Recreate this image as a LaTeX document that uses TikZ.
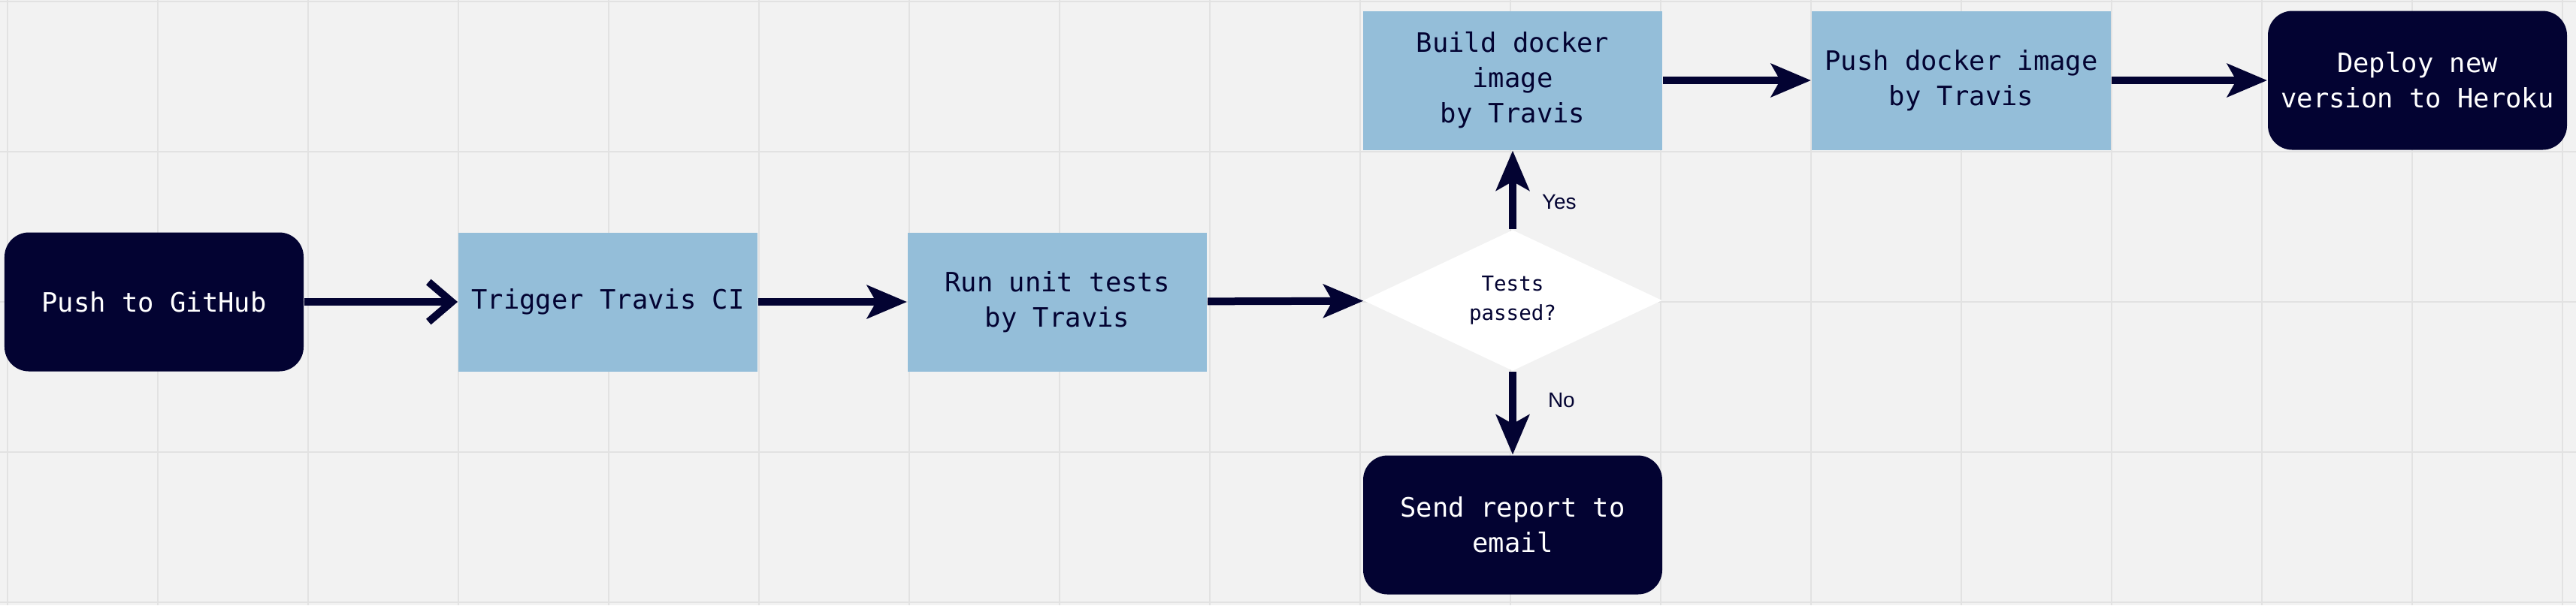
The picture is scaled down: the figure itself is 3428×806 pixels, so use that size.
\documentclass[tikz,border=0pt]{standalone}
\usepackage{fontspec}
\usepackage{tikz}
\usetikzlibrary{arrows.meta,shapes.geometric}
\newfontfamily\plexmono{DejaVu Sans Mono}
\newfontfamily\plexsans{Liberation Sans}
\definecolor{navy}{RGB}{3,3,50}
\definecolor{travisblue}{RGB}{148,190,217}
\definecolor{boardgray}{RGB}{242,242,242}
\definecolor{gridgray}{RGB}{226,226,226}

\begin{document}
\begin{tikzpicture}[x=0.2pt,y=0.2pt,yscale=-1,xscale=1,
  darkbox/.style={fill=navy, text=white, rounded corners=6.5pt, minimum width=79.6pt, minimum height=37pt, align=center, font=\plexmono\fontsize{7.1}{9.4}\selectfont},
  bluebox/.style={fill=travisblue, text=navy, minimum width=79.6pt, minimum height=37pt, align=center, font=\plexmono\fontsize{7.1}{9.4}\selectfont},
  decision/.style={diamond, fill=white, aspect=2.1, minimum width=79.6pt, minimum height=37.6pt, inner sep=0pt, text=navy, align=center, font=\plexmono\fontsize{5.5}{7.7}\selectfont},
  flow/.style={draw=navy, line width=2pt, -{Stealth[length=10.6pt,width=8.8pt,inset=2.4pt]}},
  answer/.style={text=navy, inner sep=0pt, font=\plexsans\fontsize{5.6}{6.7}\selectfont}]

%Board background and grid
\fill[boardgray] (0,0) rectangle (3428,806);
\useasboundingbox (0,0) rectangle (3428,806);
\foreach \gx in {10,210,...,3410}
  \draw[gridgray, line width=0.45pt] (\gx,0) -- (\gx,806);
\foreach \gy in {2,202,...,802}
  \draw[gridgray, line width=0.45pt] (0,\gy) -- (3428,\gy);

%Shape: Rounded Rect
\node[darkbox] (github) at (205,402) {Push to GitHub};
%Shape: Rectangle
\node[bluebox] (trigger) at (809,402) {Trigger Travis CI};
%Shape: Rectangle
\node[bluebox] (unittests) at (1407,402) {Run unit tests\\by Travis};
%Shape: Diamond
\node[decision] (passed) at (2013,400) {Tests\\passed?};
%Shape: Rectangle
\node[bluebox] (build) at (2013,107) {Build docker\\image\\by Travis};
%Shape: Rectangle
\node[bluebox] (pushimage) at (2610,107) {Push docker image\\by Travis};
%Shape: Rounded Rect
\node[darkbox] (deploy) at (3217,107) {Deploy new\\version to Heroku};
%Shape: Rounded Rect
\node[darkbox] (report) at (2013,699) {Send report to\\email};

%Straight Lines
\draw[draw=navy, line width=2pt, -{Straight Barb[length=6.2pt,width=10.6pt]}] (github) -- (trigger);
%Straight Lines
\draw[flow] (trigger) -- (unittests);
%Straight Lines
\draw[flow] (unittests) -- (passed);
%Straight Lines
\draw[flow] (passed) -- (build) node[answer, pos=0.34, anchor=west, xshift=6.8pt] {Yes};
%Straight Lines
\draw[flow] (passed) -- (report) node[answer, pos=0.34, anchor=west, xshift=8.4pt] {No};
%Straight Lines
\draw[flow] (build) -- (pushimage);
%Straight Lines
\draw[flow] (pushimage) -- (deploy);
\end{tikzpicture}
\end{document}
